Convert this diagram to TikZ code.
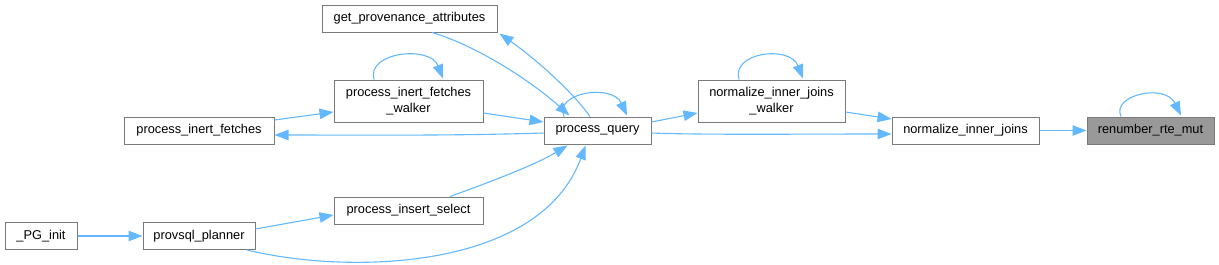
\documentclass[tikz,border=0pt]{standalone}
\usepackage{fontspec}
\setmainfont{Liberation Sans}
\usetikzlibrary{arrows.meta,calc}
\definecolor{edgec}{HTML}{63B8FF}
\definecolor{bordc}{HTML}{7A7A7A}
\definecolor{hlfill}{HTML}{999999}
\tikzset{
  fn/.style={draw=bordc, line width=1pt, fill=white, inner sep=0pt, minimum height=27pt,
    font=\fontsize{12.8}{15.5}\selectfont, align=center, text=black},
  fn2/.style={fn, minimum height=42pt},
  hl/.style={fn, fill=hlfill},
  link/.style={draw=edgec, line width=1.1pt, -{Triangle[length=14pt,width=10.5pt]}},
}
\begin{document}
\begin{tikzpicture}[x=1pt,y=-1pt]
\useasboundingbox (0,0) rectangle (1219,265);
\node[fn, minimum width=72pt]  (pginit)  at (41,236)    {\_PG\_init};
\node[fn, minimum width=112pt] (planner) at (199,236)   {provsql\_planner};
\node[fn, minimum width=150pt] (pif)     at (199,130.5) {process\_inert\_fetches};
\node[fn2, minimum width=149pt] (pifw)   at (408.5,101) {process\_inert\_fetches\\\_walker};
\node[fn, minimum width=175pt] (gpa)     at (409.5,18.5) {get\_provenance\_attributes};
\node[fn, minimum width=149pt] (pis)     at (408.5,210.5) {process\_insert\_select};
\node[fn, minimum width=107pt] (pq)      at (597.5,130.5) {process\_query};
\node[fn2, minimum width=147pt] (niw)    at (771.5,101) {normalize\_inner\_joins\\\_walker};
\node[fn, minimum width=147pt] (ni)      at (965.5,130.5) {normalize\_inner\_joins};
\node[hl, minimum width=127pt] (rrm)     at (1150.5,130.5) {renumber\_rte\_mut};

% edges
\draw[link] (pginit.east) -- (planner.west);
\draw[link] ([yshift=7pt]planner.east) -- ([yshift=-4.5pt]pis.west);
\draw[link] ([xshift=48pt]planner.south) .. controls (350,275) and (540,270) .. ([xshift=-12pt,yshift=-1pt]pq.south);
\draw[link] ([xshift=41.5pt]pis.north) .. controls (490,182) and (535,165) .. ([xshift=-30pt,yshift=-1pt]pq.south);
\draw[link] ([yshift=10.5pt]pif.east) -- ([yshift=-11pt]pifw.west);
\draw[link] ([yshift=-2.5pt]pq.west) .. controls (450,136) and (350,135) .. ([yshift=-4.5pt]pif.east);
\draw[link] ([yshift=-12pt]pifw.east) -- ([yshift=8.5pt]pq.west);
\draw[link] ([xshift=-34.5pt]pifw.north) .. controls (366,52) and (430,45) .. ([xshift=34.5pt,yshift=1pt]pifw.north);
\draw[link] ([xshift=22.5pt]gpa.south) .. controls (475,45) and (530,80) .. ([xshift=-28pt,yshift=1pt]pq.north);
\draw[link] ([xshift=-7.5pt]pq.north) .. controls (575,95) and (540,62) .. ([xshift=2pt,yshift=-1pt]gpa.south east);
\draw[link] ([xshift=-33.5pt]pq.north) .. controls (553,93) and (612,83) .. ([xshift=29.5pt,yshift=1pt]pq.north);
\draw[link] ([yshift=8.5pt]pq.east) -- ([yshift=-12pt]niw.west);
\draw[link] ([xshift=-32.5pt]niw.north) .. controls (731,52) and (790,45) .. ([xshift=31.5pt,yshift=1pt]niw.north);
\draw[link] ([yshift=-11pt]niw.east) -- ([yshift=11.5pt]ni.west);
\draw[link] ([yshift=-2.5pt]pq.east) .. controls (700,135) and (800,134) .. ([yshift=-3.5pt]ni.west);
\draw[link] (ni.east) -- (rrm.west);
\draw[link] ([xshift=-29.5pt]rrm.north) .. controls (1111,95) and (1165,83) .. ([xshift=30.5pt,yshift=1pt]rrm.north);
\end{tikzpicture}
\end{document}
